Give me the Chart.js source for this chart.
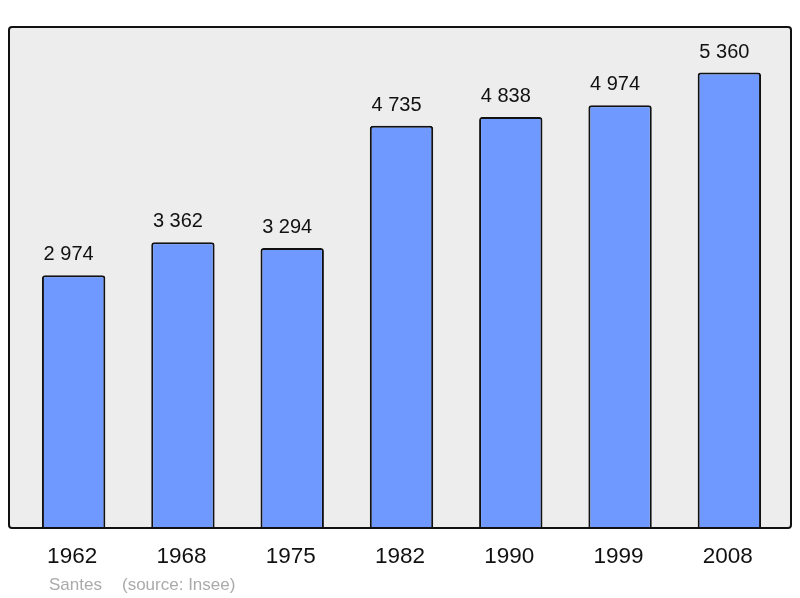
<!DOCTYPE html>
<html>
<head>
<meta charset="utf-8">
<script src="https://cdn.jsdelivr.net/npm/chart.js@4/dist/chart.umd.min.js"></script>
<style>
  html, body { margin: 0; padding: 0; background: #fff; }
  #wrap { width: 800px; height: 598px; position: relative; }
</style>
</head>
<body>
<div id="wrap"><canvas id="chart" width="800" height="598"></canvas></div>
<script>
const years = ['1962', '1968', '1975', '1982', '1990', '1999', '2008'];
const population = [2974, 3362, 3294, 4735, 4838, 4974, 5360];
const footerName = 'Santes';
const footerSource = '(source: Insee)';

function fmt(n) {
    return String(n).replace(/\B(?=(\d{3})+(?!\d))/g, ' ');
}

// frame, value labels, year labels and footer
const decor = {
    id: 'decor',
    beforeDatasetsDraw(chart) {
        const ctx = chart.ctx;
        ctx.save();
        ctx.fillStyle = '#ededed';
        ctx.beginPath();
        ctx.roundRect(9, 27, 782, 501, 3);
        ctx.fill();
        ctx.restore();
    },
    afterDatasetsDraw(chart) {
        const ctx = chart.ctx;
        const x = chart.scales.x;
        const y = chart.scales.y;
        ctx.save();
        ctx.strokeStyle = '#111';
        ctx.lineWidth = 2;
        ctx.beginPath();
        ctx.roundRect(9, 27, 782, 501, 3);
        ctx.stroke();

        ctx.fillStyle = '#111';
        ctx.textAlign = 'center';
        ctx.textBaseline = 'alphabetic';
        ctx.font = '20px "Liberation Sans", Arial, sans-serif';
        population.forEach((v, i) => {
            ctx.fillText(fmt(v), x.getPixelForValue(i) - 5, y.getPixelForValue(v) - 15);
        });

        ctx.font = '22.5px "Liberation Sans", Arial, sans-serif';
        years.forEach((yr, i) => {
            ctx.fillText(yr, x.getPixelForValue(i) - 1.5, 563);
        });

        ctx.fillStyle = '#aaaaaa';
        ctx.textAlign = 'left';
        ctx.font = '17px "Liberation Sans", Arial, sans-serif';
        ctx.fillText(footerName, 49, 590);
        ctx.fillText(footerSource, 122, 590);
        ctx.restore();
    }
};

new Chart(document.getElementById('chart'), {
    type: 'bar',
    data: {
        labels: years,
        datasets: [{
            data: population,
            backgroundColor: '#7099ff',
            borderColor: '#111',
            borderWidth: 2,
            borderRadius: { topLeft: 3, topRight: 3 },
            borderSkipped: 'bottom',
            barPercentage: 0.58,
            categoryPercentage: 1
        }]
    },
    options: {
        responsive: false,
        animation: false,
        layout: { padding: { left: 19, right: 16, top: 27, bottom: 70 } },
        plugins: { legend: { display: false }, tooltip: { enabled: false } },
        scales: {
            x: { display: false },
            y: { display: false, min: 0, max: 5896 }
        }
    },
    plugins: [decor]
});
</script>
</body>
</html>
